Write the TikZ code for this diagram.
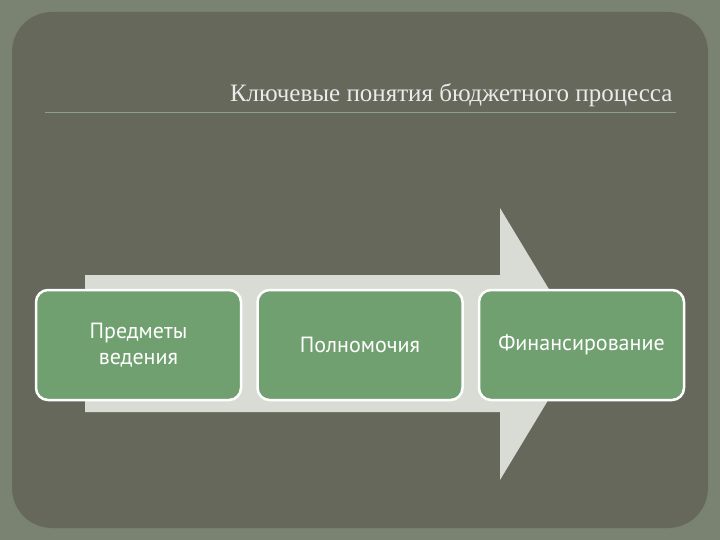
\documentclass[tikz,border=0pt]{standalone}
\usepackage{fontspec}
\setmainfont{Liberation Serif}
\newfontfamily\boxfont{PT Sans}
\definecolor{outerbg}{RGB}{122,130,114}
\definecolor{innerbg}{RGB}{102,104,91}
\definecolor{arrowc}{RGB}{217,220,213}
\definecolor{boxg}{RGB}{112,160,112}
\definecolor{linec}{RGB}{140,160,140}
\tikzset{
  stepbox/.style={draw=white,line width=2.5pt,fill=boxg,rounded corners=12pt,minimum width=205pt,minimum height=110pt,align=center,text=white,font=\boxfont\fontsize{22}{26}\selectfont,inner sep=0pt}
}
\begin{document}
\begin{tikzpicture}[x=1pt,y=-1pt]
\useasboundingbox (0,0) rectangle (720,540);
\fill[outerbg] (0,0) rectangle (720,540);
\fill[innerbg,rounded corners=40pt] (12,12) rectangle (708,528);
\node[anchor=base east,text=white!92!black,font=\fontsize{25}{28}\selectfont] (title) at (676,102) {Ключевые понятия бюджетного процесса};
\coordinate (l1) at (45,112); \coordinate (l2) at (676,112);
\draw[linec,line width=0.6pt] (l1) -- (l2);
\fill[arrowc] (85,275) -- (500,275) -- (500,208) -- (582,344) -- (500,480) -- (500,412) -- (85,412) -- cycle;
\node[stepbox] (b1) at (138.5,345) {Предметы\\ведения};
\node[stepbox] (b2) at (360,345) {Полномочия};
\node[stepbox] (b3) at (581.5,345) {Финансирование};
\end{tikzpicture}
\end{document}
